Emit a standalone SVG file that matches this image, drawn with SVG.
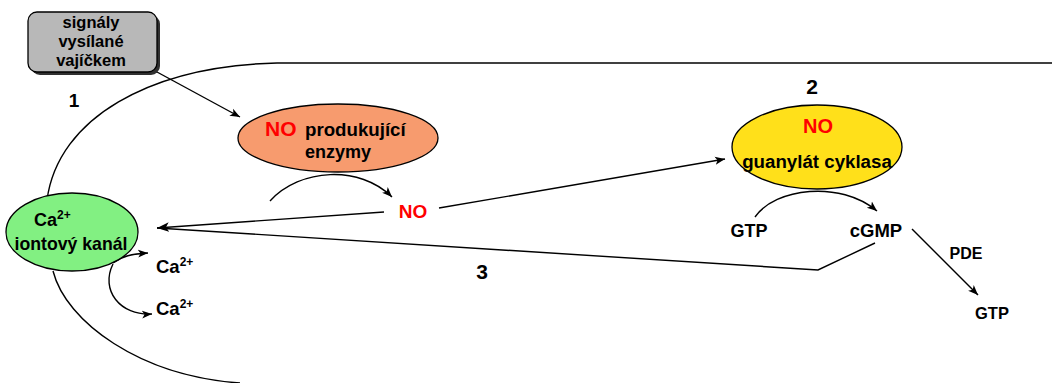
<svg xmlns="http://www.w3.org/2000/svg" width="1052" height="383" viewBox="0 0 1052 383">
<style>
text{font-family:"Liberation Sans",Arial,sans-serif;font-weight:bold;fill:#000}
.red{fill:#ff0000}
.ln{fill:none;stroke:#000;stroke-width:1.4}
.node{stroke:#000;stroke-width:1.3}
</style>
<defs>
<marker id="ah" viewBox="0 0 10 10" refX="10" refY="5" markerWidth="10" markerHeight="10" markerUnits="userSpaceOnUse" orient="auto">
<path d="M0,1 L10,5 L0,9 L2.5,5 Z" fill="#000"/>
</marker>
<marker id="ah2" viewBox="0 0 10 10" refX="10" refY="5" markerWidth="12" markerHeight="12" markerUnits="userSpaceOnUse" orient="auto">
<path d="M0,1 L10,5 L0,9 L2.5,5 Z" fill="#000"/>
</marker>
</defs>
<rect width="1052" height="383" fill="#fff"/>
<g id="connectors">
<path class="ln" d="M277,63 L1052,63"/>
<path class="ln" d="M277,63 C150,66 58,118 47,200"/>
<path class="ln" d="M53,271 C66,322 140,376 240,383"/>
<path class="ln" d="M157,72 L240,117" marker-end="url(#ah)"/>
<path class="ln" d="M270,201 C300,168 360,165 392,197" marker-end="url(#ah)"/>
<path class="ln" d="M439,208 L725,159" marker-end="url(#ah)"/>
<path class="ln" d="M384,212 L157,228" marker-end="url(#ah2)"/>
<path class="ln" d="M875,243 L818,270 L157,228"/>
<path class="ln" d="M755,217 C775,188 840,180 877,211" marker-end="url(#ah)"/>
<path class="ln" d="M912,229 L978,295" marker-end="url(#ah)"/>
<path class="ln" d="M113,263 C122,256 132,254 148,253" marker-end="url(#ah)"/>
<path class="ln" d="M113,264 C100,290 120,316 152,314" marker-end="url(#ah)"/>
</g>
<g id="signal">
<rect x="31" y="15" width="129" height="60" rx="9" fill="#303030"/>
<rect x="28" y="12" width="129" height="60" rx="9" fill="#b8b8b8" class="node"/>
<text x="91" y="28" font-size="16.5" text-anchor="middle">signály</text>
<text x="91" y="47" font-size="16.5" text-anchor="middle">vysílané</text>
<text x="91" y="66" font-size="16.5" text-anchor="middle">vajíčkem</text>
</g>
<g id="enzyme">
<ellipse cx="338" cy="138" rx="100" ry="34" fill="#f79b6e" class="node"/>
<text x="265" y="136" font-size="21" class="red">NO</text>
<text x="305" y="136" font-size="18.7">produkující</text>
<text x="338" y="158" font-size="18" text-anchor="middle">enzymy</text>
</g>
<g id="no">
<text x="413" y="218" font-size="19" class="red" text-anchor="middle">NO</text>
</g>
<g id="guanylate">
<ellipse cx="817" cy="147" rx="85" ry="42" fill="#ffe01a" class="node"/>
<text x="818" y="133" font-size="20" class="red" text-anchor="middle">NO</text>
<text x="817" y="168" font-size="18.7" text-anchor="middle">guanylát cyklasa</text>
</g>
<g id="channel">
<ellipse cx="72" cy="232" rx="66" ry="39" fill="#82f082" class="node"/>
<text x="34" y="226" font-size="18">Ca<tspan font-size="12" dy="-7">2+</tspan></text>
<text x="71" y="250" font-size="17.7" text-anchor="middle">iontový kanál</text>
</g>
<g id="labels">
<text x="156" y="273" font-size="18.5">Ca<tspan font-size="12" dy="-7">2+</tspan></text>
<text x="156" y="315" font-size="18.5">Ca<tspan font-size="12" dy="-7">2+</tspan></text>
<text x="749" y="237" font-size="18" text-anchor="middle">GTP</text>
<text x="876" y="237" font-size="18.5" text-anchor="middle">cGMP</text>
<text x="966" y="259" font-size="16" text-anchor="middle">PDE</text>
<text x="992" y="319" font-size="16.5" text-anchor="middle">GTP</text>
<text x="74" y="107" font-size="19" text-anchor="middle">1</text>
<text x="812" y="94" font-size="21" text-anchor="middle">2</text>
<text x="482" y="279" font-size="21" text-anchor="middle">3</text>
</g>
</svg>
